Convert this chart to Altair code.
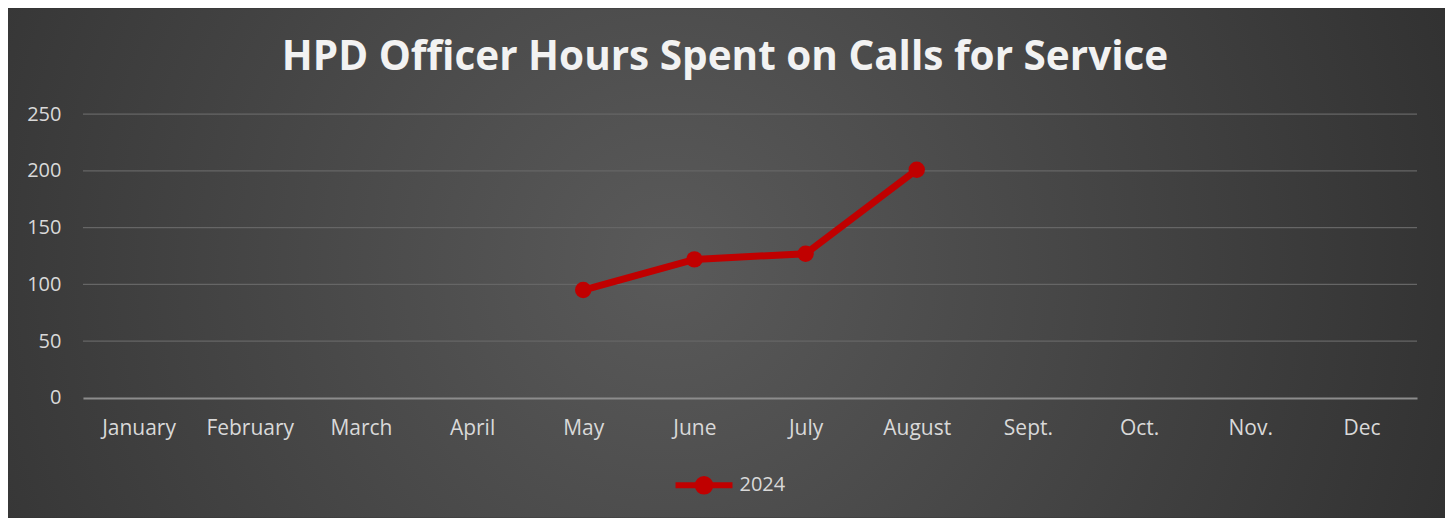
import altair as alt
import pandas as pd

months = ["January", "February", "March", "April", "May", "June",
          "July", "August", "Sept.", "Oct.", "Nov.", "Dec"]
data_months = ["May", "June", "July", "August"]
hours_2024 = [95, 122, 127, 201]
series_name = "2024"
grid_values = [50, 100, 150, 200, 250]

W, H = 1335, 284
PAD = {"left": 75, "top": 106, "right": 28, "bottom": 120}

df = pd.DataFrame({"month": data_months, "hours": hours_2024, "series": series_name})
grid_df = pd.DataFrame({"v": grid_values})
bg_df = pd.DataFrame({"k": [0]})

FONT = "Open Sans"
LABEL = "#d9d9d9"
RED = "#c00000"

xenc = alt.X("month:N", sort=months,
             scale=alt.Scale(type="point", domain=months, padding=0.5),
             axis=alt.Axis(title=None, labelAngle=0, ticks=False, grid=False,
                           domainColor="#8c8c8c", domainWidth=2, labelPadding=20,
                           labelColor=LABEL, labelFont=FONT, labelFontSize=21, zindex=1))
yscale = alt.Scale(domain=[0, 250])

radial = {
    "gradient": "radial",
    "x1": 0.46, "y1": 0.5, "r1": 0,
    "x2": 0.46, "y2": 0.5, "r2": 0.72,
    "stops": [{"offset": 0, "color": "#5a5a5a"},
              {"offset": 1, "color": "#272727"}],
}

bg = alt.Chart(bg_df).mark_rect(color=radial).encode(
    x=alt.value(-PAD["left"]), x2=alt.value(W + PAD["right"]),
    y=alt.value(-PAD["top"]), y2=alt.value(H + PAD["bottom"]),
)

grid = alt.Chart(grid_df).mark_rule(color="#666666", strokeWidth=1.3).encode(
    y=alt.Y("v:Q", scale=yscale),
    x=alt.value(0), x2=alt.value(W),
)

symbol_path = ("M-1,0L1,0M-0.22,0A0.22,0.22 0 1,0 0.22,0A0.22,0.22 0 1,0 -0.22,0Z")

line = alt.Chart(df).mark_line(strokeWidth=7, strokeCap="round").encode(
    x=xenc,
    y=alt.Y("hours:Q", scale=yscale,
            axis=alt.Axis(title=None, values=[0, 50, 100, 150, 200, 250], grid=False,
                          ticks=False, domain=False, labelPadding=22,
                          labelColor=LABEL, labelFont=FONT, labelFontSize=20, zindex=1)),
    color=alt.Color("series:N", scale=alt.Scale(range=[RED]),
                    legend=alt.Legend(title=None, orient="none", legendX=590, legendY=340,
                                      symbolType=symbol_path,
                                      symbolSize=3249, symbolStrokeWidth=6,
                                      symbolFillColor=RED, labelColor=LABEL,
                                      labelFont=FONT, labelFontSize=20, labelOffset=4)),
)

pts = alt.Chart(df).mark_point(filled=True, size=270, opacity=1).encode(
    x=xenc,
    y=alt.Y("hours:Q", scale=yscale),
    color=alt.Color("series:N", scale=alt.Scale(range=[RED]), legend=None),
)

chart = alt.layer(bg, grid, line, pts).properties(
    width=W, height=H,
    autosize=alt.AutoSizeParams(type="none"),
    padding=PAD,
    background="#2b2b2b",
    title=alt.TitleParams("HPD Officer Hours Spent on Calls for Service",
                          font=FONT, fontSize=40.5, fontWeight="bold", color="#f2f2f2",
                          anchor="middle", frame="group", baseline="alphabetic",
                          offset=-102, dx=-25),
).configure_view(stroke=None)

chart.save("out.html", embed_options={"renderer": "svg", "actions": False})
